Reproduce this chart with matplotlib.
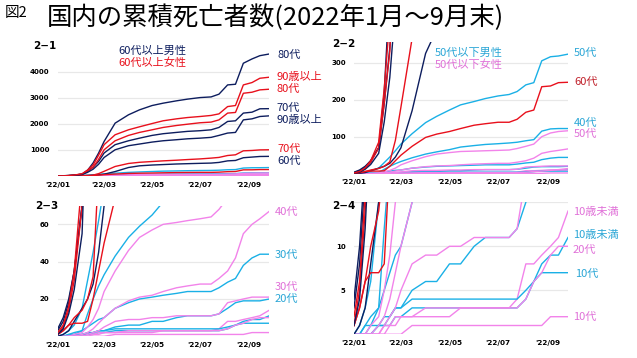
import matplotlib
matplotlib.use("Agg")
import matplotlib.pyplot as plt
import matplotlib.transforms as mtransforms
import pandas as pd

plt.rcParams['font.family'] = ['Noto Sans CJK JP', 'DejaVu Sans']

# ---------------- data ----------------
dates = pd.to_datetime([
    "2022-01-01", "2022-01-08", "2022-01-15", "2022-01-22", "2022-02-01",
    "2022-02-08", "2022-02-15", "2022-02-22", "2022-03-01", "2022-03-15",
    "2022-04-01", "2022-04-15", "2022-05-01", "2022-05-15", "2022-06-01",
    "2022-06-15", "2022-07-01", "2022-07-15", "2022-07-25", "2022-08-05",
    "2022-08-15", "2022-08-25", "2022-09-05", "2022-09-15", "2022-09-27"])

ages = ["10歳未満", "10代", "20代", "30代", "40代", "50代", "60代", "70代", "80代", "90歳以上"]

male_u10 = [0, 0, 0, 0, 1, 1, 1, 2, 2, 3, 3, 3, 3, 3, 3, 3, 3, 3, 3, 4, 6, 8, 9, 9, 11]
male_10s = [0, 0, 0, 1, 1, 2, 2, 3, 3, 4, 4, 4, 4, 4, 4, 4, 4, 4, 4, 5, 6, 7, 7, 7, 7]
male_20s = [0, 0, 0, 0, 1, 1, 2, 3, 3, 5, 6, 6, 8, 8, 10, 11, 11, 11, 12, 15, 18, 19, 19, 19, 20]
male_30s = [0, 0, 1, 2, 3, 5, 7, 9, 10, 15, 18, 20, 21, 22, 23, 24, 24, 24, 26, 29, 31, 38, 42, 44, 44]
male_40s = [0, 0, 1, 1, 3, 12, 20, 27, 33, 43, 53, 59, 65, 72, 76, 79, 81, 83, 85, 89, 92, 115, 121, 122, 122]
male_50s = [0, 1, 3, 6, 15, 30, 45, 62, 80, 108, 138, 155, 172, 186, 195, 203, 210, 214, 222, 240, 246, 305, 316, 318, 323]
male_60s = [0, 1, 3, 8, 15, 20, 28, 45, 70, 170, 325, 390, 420, 438, 460, 472, 485, 495, 520, 580, 595, 700, 725, 748, 752]
male_70s = [3, 8, 18, 35, 70, 190, 340, 560, 880, 1200, 1350, 1450, 1555, 1620, 1670, 1710, 1735, 1770, 1860, 2090, 2115, 2410, 2445, 2575, 2580]
male_80s = [4, 10, 20, 35, 70, 220, 500, 880, 1325, 2025, 2345, 2535, 2700, 2790, 2880, 2945, 3005, 3030, 3135, 3490, 3515, 4320, 4485, 4610, 4675]
male_90s = [1, 4, 12, 25, 55, 140, 260, 450, 710, 1005, 1160, 1225, 1300, 1350, 1390, 1425, 1450, 1480, 1555, 1645, 1670, 2150, 2190, 2280, 2305]

female_u10 = [0, 0, 0, 0, 0, 1, 1, 2, 2, 2, 2, 2, 2, 3, 3, 3, 3, 3, 4, 8, 8, 9, 10, 11, 14]
female_10s = [0, 0, 0, 0, 0, 0, 0, 0, 0, 1, 1, 1, 1, 1, 1, 1, 1, 1, 1, 1, 1, 1, 2, 2, 2]
female_20s = [0, 0, 0, 0, 0, 0, 1, 1, 2, 2, 3, 3, 3, 3, 3, 3, 3, 3, 3, 4, 6, 7, 9, 10, 10]
female_30s = [0, 0, 0, 0, 0, 1, 2, 3, 5, 8, 9, 9, 10, 10, 11, 11, 11, 11, 12, 18, 19, 20, 21, 21, 21]
female_40s = [0, 0, 0, 0, 1, 2, 4, 7, 10, 15, 19, 21, 22, 24, 26, 27, 28, 28, 31, 35, 42, 55, 60, 63, 67]
female_50s = [0, 0, 0, 1, 2, 5, 9, 15, 24, 35, 46, 53, 57, 60, 61, 62, 63, 64, 68, 74, 80, 100, 110, 114, 116]
female_60s = [1, 3, 6, 7, 7, 8, 20, 35, 50, 74, 98, 107, 114, 122, 131, 135, 139, 139, 147, 166, 172, 235, 237, 246, 247]
female_70s = [1, 3, 6, 10, 14, 20, 32, 90, 180, 365, 480, 525, 555, 580, 605, 630, 655, 685, 712, 785, 812, 965, 978, 1000, 1005]
female_80s = [1, 5, 14, 30, 70, 190, 330, 640, 1005, 1350, 1555, 1670, 1770, 1860, 1935, 1985, 2040, 2065, 2150, 2410, 2435, 3170, 3210, 3300, 3325]
female_90s = [2, 6, 16, 35, 85, 230, 420, 800, 1200, 1580, 1770, 1885, 2010, 2115, 2190, 2240, 2280, 2320, 2380, 2660, 2700, 3490, 3580, 3745, 3785]

male = [male_u10, male_10s, male_20s, male_30s, male_40s, male_50s, male_60s, male_70s, male_80s, male_90s]
female = [female_u10, female_10s, female_20s, female_30s, female_40s, female_50s, female_60s, female_70s, female_80s, female_90s]

panel_names = ["2−1", "2−2", "2−3", "2−4"]
panel_ymax = [5000, 355, 70, 15]
panel_yticks = [[1000, 2000, 3000, 4000], [100, 200, 300], [20, 40, 60], [5, 10]]
xtick_dates = pd.to_datetime(["2022-01-01", "2022-03-01", "2022-05-01", "2022-07-01", "2022-09-01"])
xtick_labels = ["'22/01", "'22/03", "'22/05", "'22/07", "'22/09"]

# ---------------- style ----------------
NAVY = '#0d1d5e'
RED = '#e8101c'
DRED = '#c0202a'
CYAN = '#1ab0e6'
CYAN_T = '#2aa6d6'
PINK = '#f283ea'
PINK_T = '#e070d8'

W, H = 637, 358
fig = plt.figure(figsize=(W / 100, H / 100), dpi=100)

def rect(x0, x1, ytop, ybot):
    return [x0 / W, 1 - ybot / H, (x1 - x0) / W, (ybot - ytop) / H]

rects = [rect(57.7, 269.3, 45.5, 176.0),
         rect(354.0, 568.0, 42.3, 173.7),
         rect(57.7, 269.3, 205.7, 336.3),
         rect(354.0, 568.0, 202.3, 334.3)]

axes = []
for k in range(4):
    ax = fig.add_axes(rects[k])
    axes.append(ax)
    for i in range(6):
        ax.plot(dates, male[i], color=CYAN, lw=1.0)
        ax.plot(dates, female[i], color=PINK, lw=1.0)
    for i in range(6, 10):
        ax.plot(dates, male[i], color=NAVY, lw=1.0)
        ax.plot(dates, female[i], color=RED, lw=1.0)
    ax.set_xlim(pd.Timestamp("2022-01-01"), pd.Timestamp("2022-09-27"))
    ax.set_ylim(0, panel_ymax[k])
    ax.set_yticks(panel_yticks[k])
    ax.set_yticklabels([str(v) for v in panel_yticks[k]], fontsize=5,
                       fontweight='bold', family='DejaVu Sans')
    ax.set_xticks(xtick_dates)
    ax.set_xticklabels(xtick_labels, fontsize=5.2, fontweight='bold', family='DejaVu Sans')
    ax.tick_params(length=0, pad=4)
    ax.tick_params(axis='y', pad=6)
    for s in ax.spines.values():
        s.set_visible(False)
    ax.grid(axis='y', color='#e8e8e8', lw=0.9)
    ax.set_axisbelow(True)
    ax.patch.set_alpha(0)

axes[3].axhline(15, color='#e8e8e8', lw=0.9, zorder=0)

# panel numbers
for (px, py), name in zip([(33, 46), (332, 44), (35, 206), (332, 206)], panel_names):
    fig.text(px / W, 1 - py / H, name, fontsize=7.5, fontweight='bold', va='center',
             ha='left', family='DejaVu Sans')

# legends
LFS = 8
axes[0].text(0.285, 0.956, "60代以上男性", transform=axes[0].transAxes, color=NAVY,
             fontsize=LFS, va='center', ha='left')
axes[0].text(0.285, 0.866, "60代以上女性", transform=axes[0].transAxes, color=RED,
             fontsize=LFS, va='center', ha='left')
axes[1].text(0.378, 0.916, "50代以下男性", transform=axes[1].transAxes, color=CYAN_T,
             fontsize=LFS, va='center', ha='left')
axes[1].text(0.378, 0.827, "50代以下女性", transform=axes[1].transAxes, color=PINK_T,
             fontsize=LFS, va='center', ha='left')

# end-of-line labels: (panel, text, colour, y position in data units, x offset in axes fraction)
end_labels = [
    (0, "80代", NAVY, 4656, 0.040), (0, "90歳以上", RED, 3790, 0.036),
    (0, "80代", RED, 3320, 0.036), (0, "70代", NAVY, 2595, 0.036),
    (0, "90歳以上", NAVY, 2150, 0.036), (0, "70代", RED, 1042, 0.040),
    (0, "60代", NAVY, 584, 0.036),
    (1, "50代", CYAN_T, 326, 0.028), (1, "60代", DRED, 249, 0.028),
    (1, "40代", CYAN_T, 138, 0.028), (1, "50代", PINK_T, 107, 0.028),
    (2, "40代", PINK_T, 66.8, 0.027), (2, "30代", CYAN_T, 43.6, 0.027),
    (2, "30代", PINK_T, 26.4, 0.027), (2, "20代", CYAN_T, 20.2, 0.027),
    (3, "10歳未満", PINK_T, 13.9, 0.023), (3, "10歳未満", CYAN_T, 11.3, 0.023),
    (3, "20代", PINK_T, 9.6, 0.023), (3, "10代", CYAN_T, 6.9, 0.031),
    (3, "10代", PINK_T, 2.0, 0.023),
]
for k, txt, col, yv, dx in end_labels:
    ax = axes[k]
    tr = mtransforms.blended_transform_factory(ax.transAxes, ax.transData)
    ax.text(1 + dx, yv, txt, transform=tr, color=col, fontsize=LFS, va='center',
            ha='left', clip_on=False)

# titles
fig.text(5 / W, 1 - 13 / H, "図2", fontsize=10.5, va='center', ha='left')
fig.text(47 / W, 1 - 18 / H, "国内の累積死亡者数(2022年1月～9月末)", fontsize=18.3,
         va='center', ha='left')

fig.savefig("out.png", dpi=100)
